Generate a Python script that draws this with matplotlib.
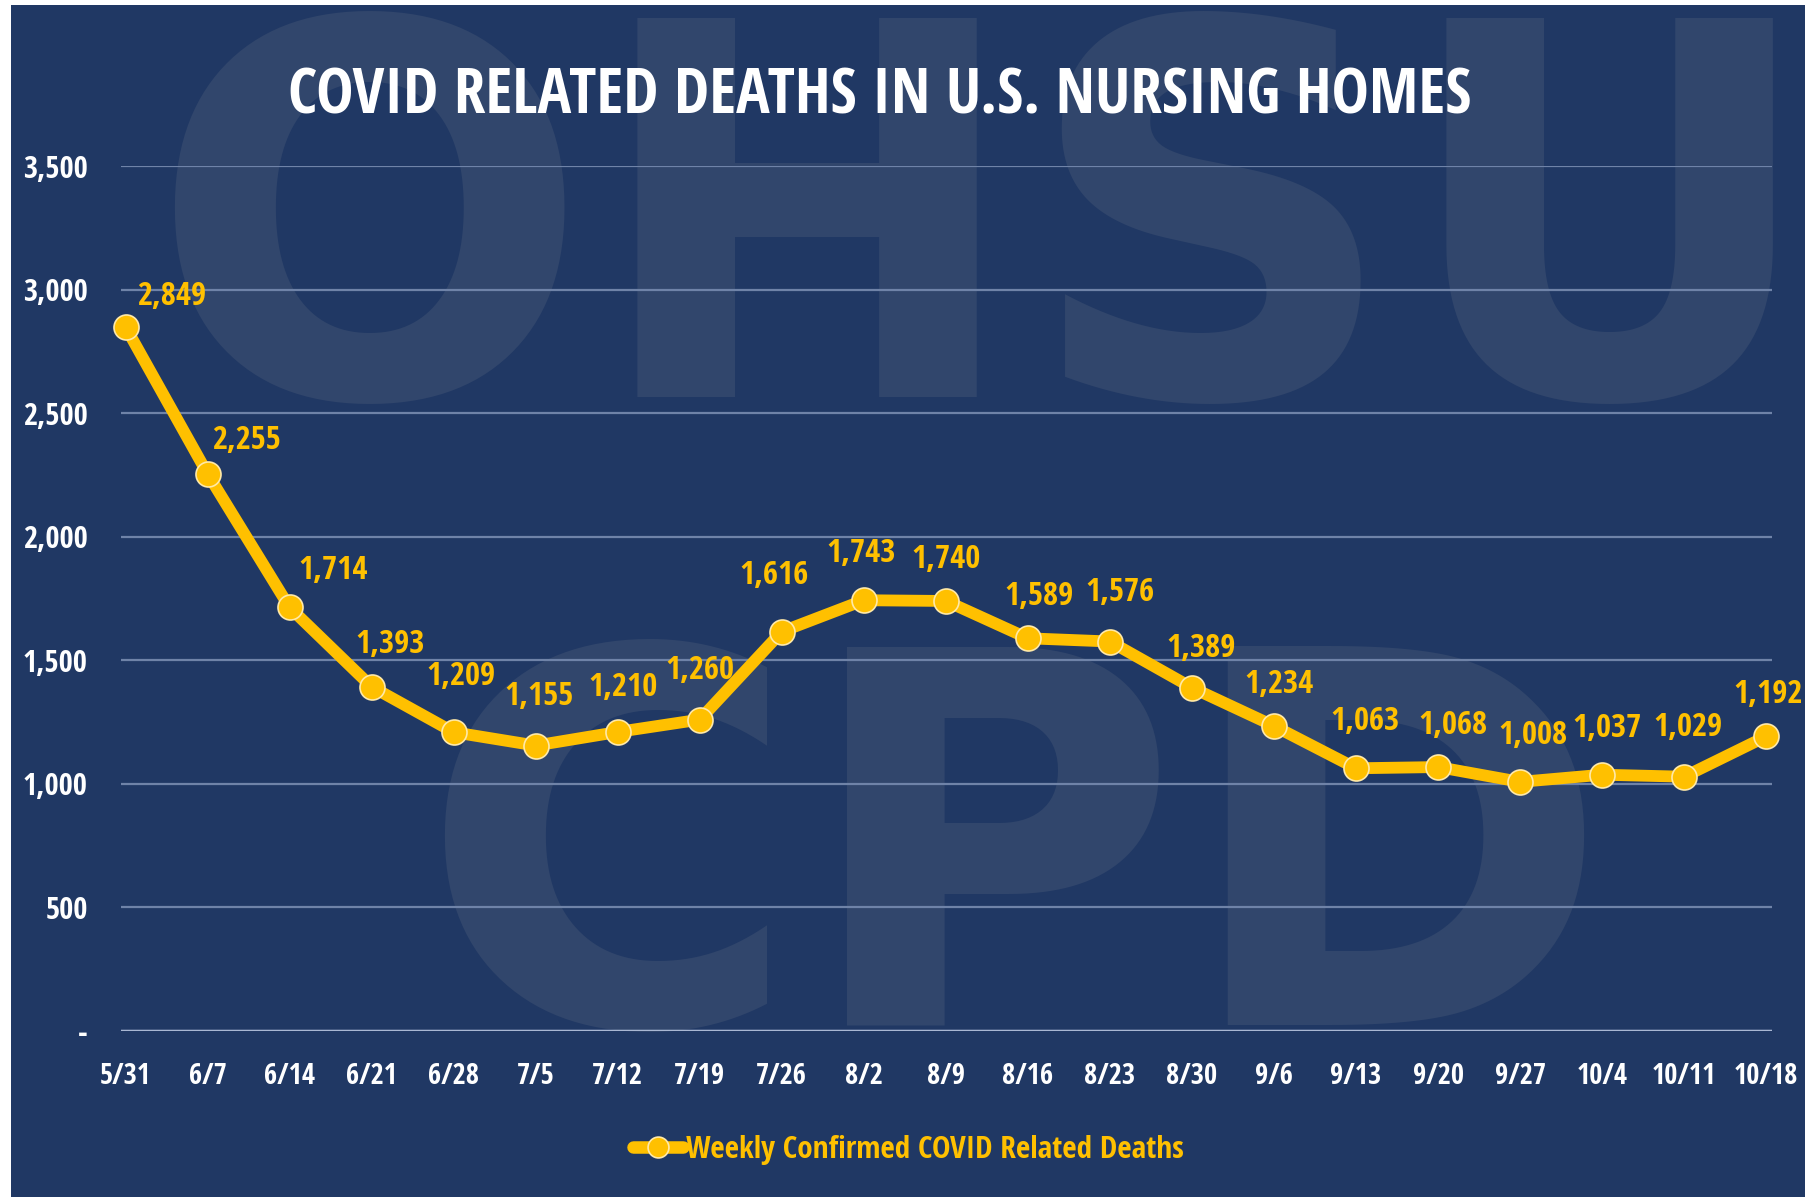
import matplotlib.pyplot as plt
from matplotlib.patches import Rectangle
from matplotlib.lines import Line2D

weeks = ['5/31', '6/7', '6/14', '6/21', '6/28', '7/5', '7/12', '7/19', '7/26', '8/2', '8/9',
         '8/16', '8/23', '8/30', '9/6', '9/13', '9/20', '9/27', '10/4', '10/11', '10/18']
deaths = [2849, 2255, 1714, 1393, 1209, 1155, 1210, 1260, 1616, 1743, 1740,
          1589, 1576, 1389, 1234, 1063, 1068, 1008, 1037, 1029, 1192]
yticks = [0, 500, 1000, 1500, 2000, 2500, 3000, 3500]
ytick_labels = ['-', '500', '1,000', '1,500', '2,000', '2,500', '3,000', '3,500']

navy = '#203864'
gold = '#FFC000'
plt.rcParams['font.family'] = ['Open Sans Condensed', 'DejaVu Sans']

fig = plt.figure(figsize=(18.06, 11.97), dpi=100)
fig.patch.set_facecolor('white')
# navy panel, thin white margin at left/top like the screenshot
fig.patches.append(Rectangle((11 / 1806, 0), 1, 1 - 5 / 1197, transform=fig.transFigure,
                             facecolor=navy, edgecolor='none', zorder=0))

# watermark letters
wm = '#31466c'
fig.text(0.545, 1 - 397 / 1197, 'OHSU', fontsize=374, fontweight='bold', color=wm,
         ha='center', va='baseline', family='DejaVu Sans', zorder=0.5)
fig.text(0.562, 1 - 1025 / 1197, 'CPD', fontsize=374, fontweight='bold', color=wm,
         ha='center', va='baseline', family='DejaVu Sans', zorder=0.5)

ax = fig.add_axes([121 / 1806, 166 / 1197, (1772 - 121) / 1806, (1031 - 166) / 1197])
ax.set_zorder(2)
ax.patch.set_alpha(0)
x = list(range(len(weeks)))
ax.plot(x, deaths, color=gold, lw=8.5, marker='o', ms=18, mfc=gold, mec='#FFE9A8',
        mew=1.2, solid_joinstyle='round', zorder=3, clip_on=False)

ax.set_xlim(-0.055, 20.07)
ax.set_ylim(0, 3500)
ax.set_yticks(yticks)
ax.set_yticklabels(ytick_labels)
ax.set_xticks(x)
ax.set_xticklabels(weeks)
ax.grid(axis='y', color='#6f83a8', lw=1.6)
ax.set_axisbelow(True)
for s in ax.spines.values():
    s.set_visible(False)
ax.axhline(0, color='#a9b7d3', lw=2.5, zorder=1)
ax.tick_params(length=0, colors='white')
ax.tick_params(axis='y', labelsize=22, pad=24)
ax.tick_params(axis='x', labelsize=20.5, pad=22)
for t in ax.get_xticklabels() + ax.get_yticklabels():
    t.set_fontweight('bold')

dx = [40, 34, 38, 16, 6, 3, 5, 0, -7, -2, 0, 10, 9, 8, 4, 8, 13, 11, 4, 3, 2]
dy = [30, 32, 36, 40, 52, 46, 42, 46, 52, 44, 40, 40, 46, 38, 40, 44, 40, 44, 44, 46, 40]
for i, v in enumerate(deaths):
    ax.annotate(f'{v:,}', (i, v), xytext=(dx[i] * 0.83, dy[i] * 0.83 - 3),
                textcoords='offset points', ha='center', va='center', color=gold,
                fontsize=23.5, fontweight='bold', zorder=4)

fig.text(880 / 1806, 1 - 97 / 1197, 'COVID RELATED DEATHS IN U.S. NURSING HOMES',
         color='white', fontsize=45.3, fontweight='bold', ha='center', va='center')

handle = Line2D([], [], color=gold, lw=9, marker='o', ms=15, mfc=gold, mec='#FFE9A8',
                mew=1.2, solid_capstyle='round')
leg = fig.legend([handle], ['Weekly Confirmed COVID Related Deaths'], loc='center',
                 bbox_to_anchor=(908 / 1806, 1 - 1150 / 1197), frameon=False,
                 handlelength=1.6, handletextpad=0.1, prop={'size': 22.5, 'weight': 'bold'})
for t in leg.get_texts():
    t.set_color(gold)

fig.savefig('out.png', dpi=100, facecolor=fig.get_facecolor())
